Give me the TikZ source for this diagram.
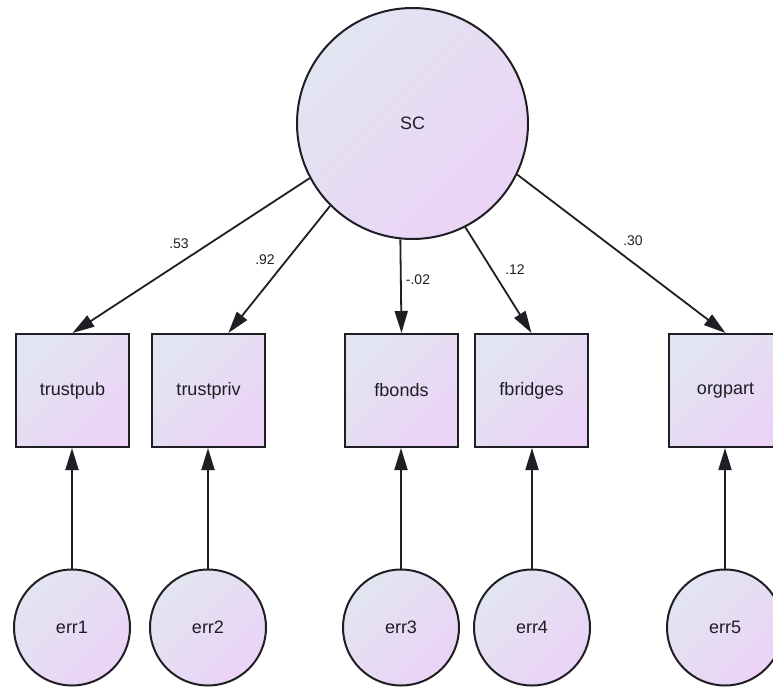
\documentclass[tikz,border=0pt]{standalone}
\usepackage{fontspec}
\setmainfont{Liberation Sans}
\usetikzlibrary{arrows.meta}
\definecolor{fillA}{RGB}{226,229,241}
\definecolor{fillB}{RGB}{235,211,246}
\definecolor{inkc}{RGB}{30,30,36}
\tikzset{
  shadefill/.style={left color=fillA, right color=fillB, shading angle=45},
  latent/.style={circle, draw=inkc, line width=2pt, shadefill, inner sep=0pt,
    font=\fontsize{18}{20}\selectfont, text=inkc},
  observed/.style={rectangle, draw=inkc, line width=2pt, shadefill, inner sep=0pt,
    minimum size=113pt, font=\fontsize{18}{20}\selectfont, text=inkc},
  errc/.style={latent, minimum size=116pt},
  path arrow/.style={-{Triangle[length=22pt,width=13pt]}, line width=1.8pt, draw=inkc},
  coef/.style={font=\fontsize{14}{16}\selectfont, text=inkc, inner sep=0pt}
}
\begin{document}
\begin{tikzpicture}[x=1pt,y=-1pt]
\useasboundingbox (0,0) rectangle (773,687);
\clip (0,0) rectangle (773,687);
\node[latent, minimum size=231pt] (sc) at (412.5,123.5) {SC};
\node[observed] (b1) at (72.5,390.5) {trustpub};
\node[observed] (b2) at (208.5,390.5) {trustpriv};
\node[observed] (b3) at (401.5,390.5) {fbonds};
\node[observed] (b4) at (531.5,390.5) {fbridges};
\node[observed] (b5) at (725.5,390.5) {orgpart};
\node[errc] (e1) at (72,627.5) {err1};
\node[errc] (e2) at (208,627.5) {err2};
\node[errc] (e3) at (401,627.5) {err3};
\node[errc] (e4) at (532,627.5) {err4};
\node[errc] (e5) at (725,627.5) {err5};
\draw[path arrow] (sc.208.5) -- (b1.north);
\draw[path arrow] (sc.225.7) -- (b2.71);
\draw[path arrow] (sc.264.3) -- (b3.north);
\draw[path arrow] (sc.297.6) -- (b4.north);
\draw[path arrow] (sc.334) -- (b5.north);
\foreach \i in {1,...,5}{\draw[path arrow] (e\i.north) -- (e\i.north |- b\i.south);}
\node[coef] (l1) at (179,244) {.53};
\node[coef] (l2) at (265,260) {.92};
\node[coef] (l3) at (418,280) {-.02};
\node[coef] (l4) at (515,270) {.12};
\node[coef] (l5) at (633,241) {.30};
\end{tikzpicture}
\end{document}
